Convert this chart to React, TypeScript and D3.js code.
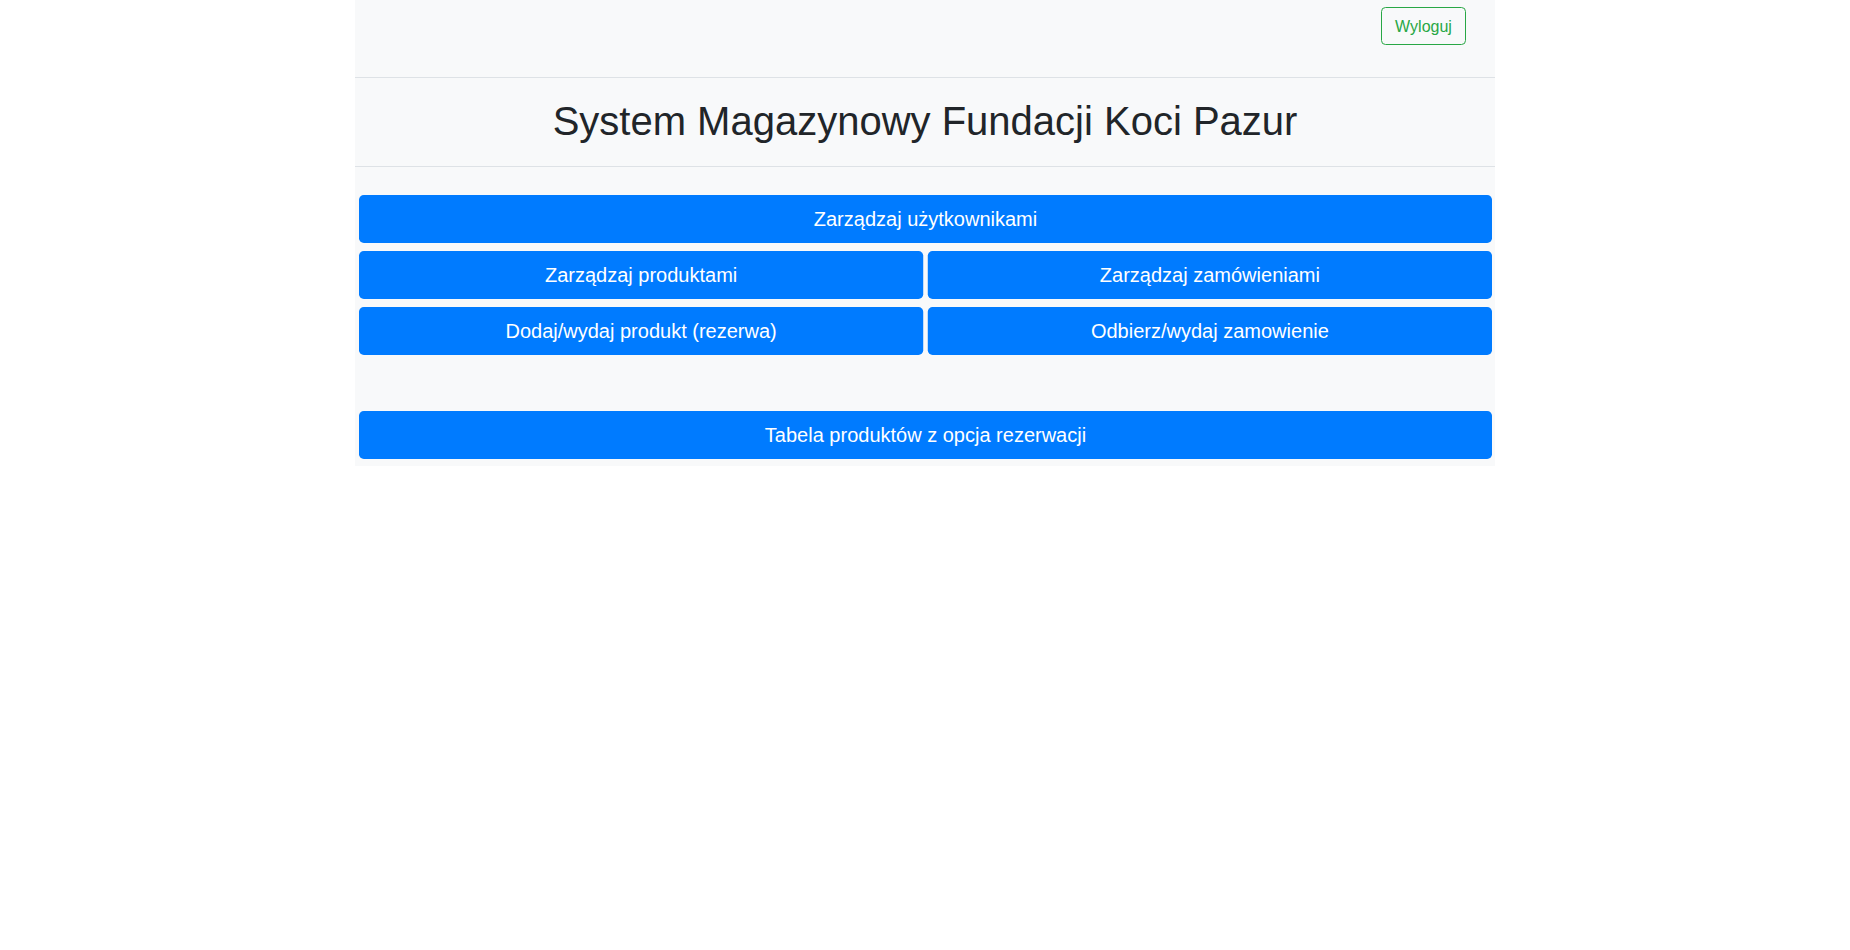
import * as d3 from 'd3';

const title = 'System Magazynowy Fundacji Koci Pazur';
const logoutLabel = 'Wyloguj';
const wideTop = ['Zarządzaj użytkownikami'];
const leftColumn = ['Zarządzaj produktami', 'Dodaj/wydaj produkt (rezerwa)'];
const rightColumn = ['Zarządzaj zamówieniami', 'Odbierz/wydaj zamowienie'];
const wideBottom = ['Tabela produktów z opcja rezerwacji'];

const W = 1850;
const H = 950;
const left = 355;
const right = 1495;
const font = '"Liberation Sans", Arial, sans-serif';
const blue = '#007bff';

function Btn({ x, y, w, h, label }: { x: number; y: number; w: number; h: number; label: string }) {
  return (
    <g>
      <rect x={x} y={y} width={w} height={h} rx={4.8} fill={blue} />
      <text x={x + w / 2} y={y + h / 2} dy="0.35em" textAnchor="middle" fill="#fff" fontSize={20} fontFamily={font}>
        {label}
      </text>
    </g>
  );
}

export default function App() {
  const rows = d3.scaleLinear().domain([0, 1, 2]).range([195, 251, 307]);
  const cols = d3.scaleBand<number>().domain([0, 1]).range([359, 1492]).paddingInner(0.008);
  const btnH = 48;
  const fullW = 1492 - 359;
  return (
    <svg width={W} height={H} style={{ position: 'absolute', left: 0, top: 0 }}>
      <rect x={0} y={0} width={W} height={H} fill="#fff" />
      <rect x={left} y={0} width={right - left} height={466} fill="#f8f9fa" />
      <line x1={left} x2={right} y1={77.5} y2={77.5} stroke="#dee2e6" />
      <line x1={left} x2={right} y1={166.5} y2={166.5} stroke="#dee2e6" />
      <rect x={1381.5} y={7.5} width={84} height={37} rx={4} fill="none" stroke="#28a745" />
      <text x={1423.5} y={26} dy="0.35em" textAnchor="middle" fill="#28a745" fontSize={16} fontFamily={font}>
        {logoutLabel}
      </text>
      <text x={925} y={121} dy="0.35em" textAnchor="middle" fill="#212529" fontSize={40} fontFamily={font}>
        {title}
      </text>
      {wideTop.map((l) => (
        <Btn key={l} x={359} y={rows(0)} w={fullW} h={btnH} label={l} />
      ))}
      {leftColumn.map((l, i) => (
        <Btn key={l} x={cols(0)!} y={rows(i + 1)} w={cols.bandwidth()} h={btnH} label={l} />
      ))}
      {rightColumn.map((l, i) => (
        <Btn key={l} x={cols(1)!} y={rows(i + 1)} w={cols.bandwidth()} h={btnH} label={l} />
      ))}
      {wideBottom.map((l) => (
        <Btn key={l} x={359} y={411} w={fullW} h={btnH} label={l} />
      ))}
    </svg>
  );
}
